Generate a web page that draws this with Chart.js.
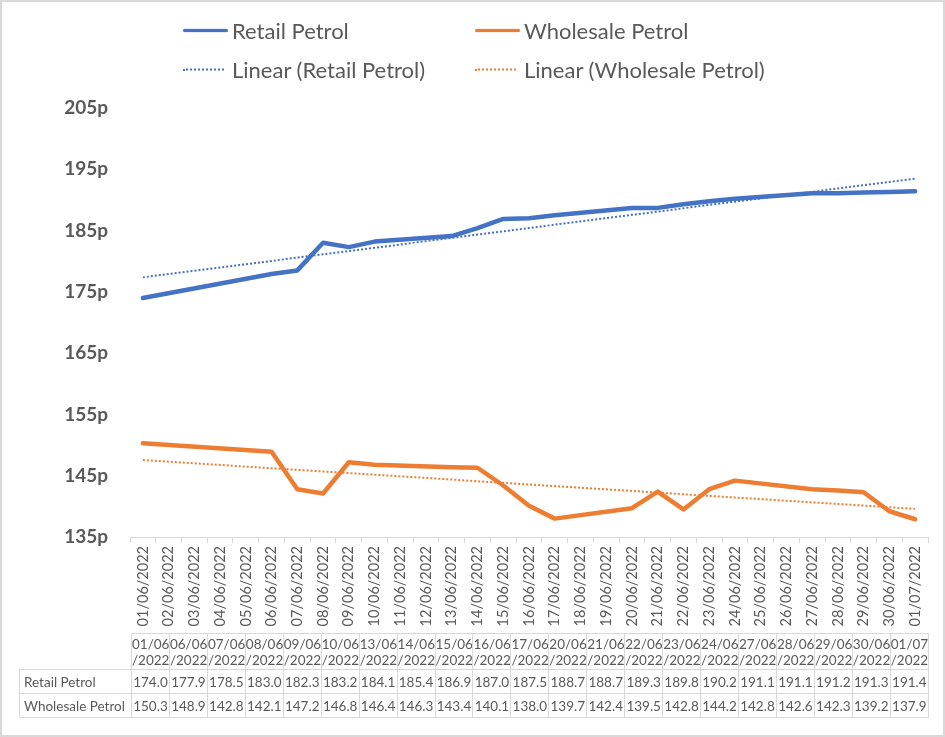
<!DOCTYPE html>
<html>
<head>
<meta charset="utf-8">
<script src="https://cdn.jsdelivr.net/npm/chart.js@4"></script>
<style>
    html, body { margin: 0; padding: 0; background: #fff; }
    #wrap { position: relative; width: 945px; height: 737px; overflow: hidden; font-family: Lato, sans-serif; color: #595959; }
    #box { position: absolute; left: 0; top: 0; width: 945px; height: 737px; }
    #frame { position: absolute; left: 0; top: 0; width: 945px; height: 737px; box-sizing: border-box; border: 2px solid #d9d9d9; pointer-events: none; }
    .item { position: absolute; display: flex; align-items: center; transform: translateY(-50%); font-size: 22px; white-space: nowrap; }
    .swatch { display: inline-block; width: 45px; height: 0; margin-right: 4px; }
    #dataTable { position: absolute; left: 19px; top: 633px; width: 910px; border-collapse: collapse; table-layout: fixed; font-size: 13.5px; color: #595959; }
    #dataTable td { border: 1px solid #d9d9d9; padding: 0; text-align: center; height: 23px; white-space: nowrap; overflow: hidden; }
    #dataTable tr.head td { height: 35px; line-height: 16px; }
    #dataTable td.name { text-align: left; padding-left: 4px; }
    #dataTable td.blank { border: none; }
</style>
</head>
<body>
<div id="wrap">
    <div id="box"><canvas id="chart"></canvas></div>
    <div id="legend"></div>
    <table id="dataTable"><colgroup><col style="width:112px"></colgroup></table>
    <div id="frame"></div>
</div>
<script>
// every day on the axis
const dayLabels = ['01/06/2022', '02/06/2022', '03/06/2022', '04/06/2022', '05/06/2022', '06/06/2022', '07/06/2022', '08/06/2022',
    '09/06/2022', '10/06/2022', '11/06/2022', '12/06/2022', '13/06/2022', '14/06/2022', '15/06/2022', '16/06/2022',
    '17/06/2022', '18/06/2022', '19/06/2022', '20/06/2022', '21/06/2022', '22/06/2022', '23/06/2022', '24/06/2022',
    '25/06/2022', '26/06/2022', '27/06/2022', '28/06/2022', '29/06/2022', '30/06/2022', '01/07/2022'];

// days that have prices (the data table)
const tableDates = ['01/06/2022', '06/06/2022', '07/06/2022', '08/06/2022', '09/06/2022', '10/06/2022', '13/06/2022',
    '14/06/2022', '15/06/2022', '16/06/2022', '17/06/2022', '20/06/2022', '21/06/2022', '22/06/2022', '23/06/2022',
    '24/06/2022', '27/06/2022', '28/06/2022', '29/06/2022', '30/06/2022', '01/07/2022'];
const retailPetrol = [174.0, 177.9, 178.5, 183.0, 182.3, 183.2, 184.1, 185.4, 186.9, 187.0, 187.5,
    188.7, 188.7, 189.3, 189.8, 190.2, 191.1, 191.1, 191.2, 191.3, 191.4];
const wholesalePetrol = [150.3, 148.9, 142.8, 142.1, 147.2, 146.8, 146.4, 146.3, 143.4, 140.1, 138.0,
    139.7, 142.4, 139.5, 142.8, 144.2, 142.8, 142.6, 142.3, 139.2, 137.9];

const yMin = 135, yMax = 205, yStep = 10;

const blue = '#4472C4';
const orange = '#ED7D31';

// put values onto the full day axis, missing days stay null
function spread(values) {
    return dayLabels.map(d => {
        const i = tableDates.indexOf(d);
        return i < 0 ? null : values[i];
    });
}

// least squares line against day position, like the Excel trendline
function trend(values) {
    const xs = tableDates.map(d => dayLabels.indexOf(d));
    const n = xs.length;
    const mx = xs.reduce((a, b) => a + b, 0) / n;
    const my = values.reduce((a, b) => a + b, 0) / n;
    let sxy = 0, sxx = 0;
    xs.forEach((x, i) => {
        sxy += (x - mx) * (values[i] - my);
        sxx += (x - mx) * (x - mx);
    });
    const slope = sxy / sxx;
    const icept = my - slope * mx;
    return dayLabels.map((_, i) => icept + slope * i);
}

const ctx = document.getElementById('chart').getContext('2d');
const chart = new Chart(ctx, {
    type: 'line',
    data: {
        labels: dayLabels,
        datasets: [
            { label: 'Retail Petrol', data: spread(retailPetrol), borderColor: blue, borderWidth: 4.5, spanGaps: true,
              pointRadius: 0, borderCapStyle: 'round', borderJoinStyle: 'round', tension: 0 },
            { label: 'Wholesale Petrol', data: spread(wholesalePetrol), borderColor: orange, borderWidth: 4.5, spanGaps: true,
              pointRadius: 0, borderCapStyle: 'round', borderJoinStyle: 'round', tension: 0 },
            { label: 'Linear (Retail Petrol)', data: trend(retailPetrol), borderColor: blue, borderWidth: 2,
              borderDash: [2, 2], pointRadius: 0, tension: 0 },
            { label: 'Linear (Wholesale Petrol)', data: trend(wholesalePetrol), borderColor: orange, borderWidth: 2,
              borderDash: [2, 2], pointRadius: 0, tension: 0 }
        ]
    },
    options: {
        responsive: true,
        maintainAspectRatio: false,
        animation: false,
        layout: { padding: { top: 108, right: 17, bottom: 104, left: 0 } },
        plugins: {
            legend: { display: false },
            tooltip: { enabled: false }
        },
        scales: {
            x: {
                type: 'category',
                offset: true,
                grid: { display: true, drawOnChartArea: false, drawTicks: true, tickLength: 6, color: '#d9d9d9', offset: true },
                border: { display: true, color: '#d9d9d9', width: 1 },
                ticks: {
                    autoSkip: false, maxRotation: 90, minRotation: 90, padding: 3,
                    color: '#595959', font: { family: 'Lato', size: 14.5 }
                },
                afterFit: s => { s.height = 96; }
            },
            y: {
                min: yMin,
                max: yMax,
                grid: { display: false, drawTicks: false },
                border: { display: false },
                ticks: {
                    stepSize: yStep, padding: 22, color: '#595959',
                    font: { family: 'Lato', size: 19, weight: 'bold' },
                    callback: v => v + 'p'
                },
                afterFit: s => { s.width = 130; }
            }
        }
    }
});

// legend in two columns, built from the datasets
const legendEl = document.getElementById('legend');
chart.data.datasets.forEach((ds, i) => {
    const item = document.createElement('div');
    item.className = 'item';
    item.style.left = (i % 2 ? 475 : 183) + 'px';
    item.style.top = (i < 2 ? 30 : 69) + 'px';
    const sw = document.createElement('span');
    sw.className = 'swatch';
    if (ds.borderDash) {
        sw.style.borderTop = '2px dotted ' + ds.borderColor;
        sw.style.width = '41px';
        sw.style.marginRight = '8px';
    } else {
        sw.style.borderTop = '4px solid ' + ds.borderColor;
        sw.style.borderRadius = '2px';
    }
    item.appendChild(sw);
    const txt = document.createElement('span');
    txt.textContent = ds.label;
    item.appendChild(txt);
    legendEl.appendChild(item);
});

// data table under the axis
const table = document.getElementById('dataTable');
const head = document.createElement('tr');
head.className = 'head';
const corner = document.createElement('td');
corner.className = 'blank';
head.appendChild(corner);
tableDates.forEach(d => {
    const td = document.createElement('td');
    td.innerHTML = d.slice(0, 5) + '<br>' + d.slice(5);
    head.appendChild(td);
});
table.appendChild(head);

[['Retail Petrol', retailPetrol], ['Wholesale Petrol', wholesalePetrol]].forEach(([name, vals]) => {
    const tr = document.createElement('tr');
    const th = document.createElement('td');
    th.className = 'name';
    th.textContent = name;
    tr.appendChild(th);
    vals.forEach(v => {
        const td = document.createElement('td');
        td.textContent = v.toFixed(1);
        tr.appendChild(td);
    });
    table.appendChild(tr);
});
</script>
</body>
</html>
